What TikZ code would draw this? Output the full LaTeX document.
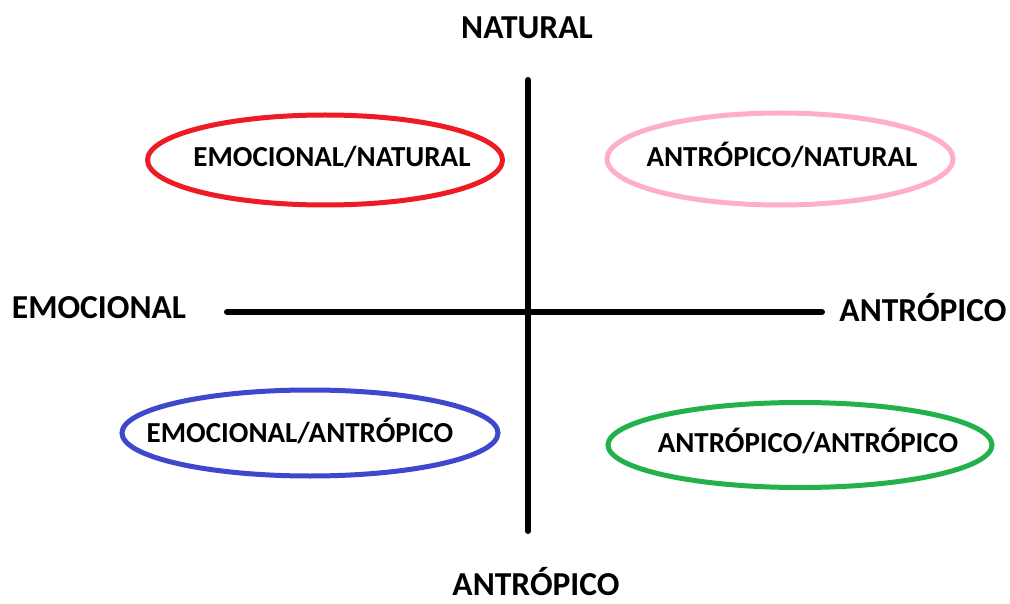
\documentclass[tikz,border=0pt]{standalone}
\usepackage{fontspec}
\setmainfont{Carlito}
\usetikzlibrary{shapes.geometric}
\definecolor{cred}{RGB}{237,28,36}
\definecolor{cpink}{RGB}{255,174,201}
\definecolor{cblue}{RGB}{63,72,204}
\definecolor{cgreen}{RGB}{34,177,76}
\tikzset{
  axis/.style={line width=6pt, line cap=round},
  axlabel/.style={anchor=base, inner sep=0pt, font=\fontsize{33.5}{33.5}\selectfont\bfseries},
  oval/.style={ellipse, draw, line width=5pt, inner sep=0pt},
  ovlabel/.style={anchor=base, inner sep=0pt, font=\fontsize{29}{29}\selectfont\bfseries}
}
\begin{document}
\begin{tikzpicture}[x=1pt,y=-1pt]
\useasboundingbox (0,0) rectangle (1010,604);
\coordinate (vt) at (528,80);
\coordinate (vb) at (528,531);
\coordinate (hl) at (227,312);
\coordinate (hr) at (822,312);
\draw[axis] (vt) -- (vb);
\draw[axis] (hl) -- (hr);
\node[axlabel] (lnat) at (527,39) {NATURAL};
\node[axlabel] (lemo) at (99,319) {EMOCIONAL};
\node[axlabel] (lantr) at (923,322) {ANTRÓPICO};
\node[axlabel] (lantb) at (536,595) {ANTRÓPICO};
\node[oval, cred, minimum width=355pt, minimum height=90pt] (ored) at (325,160) {};
\node[oval, cpink, minimum width=346pt, minimum height=92pt] (opink) at (780,159) {};
\node[oval, cblue, minimum width=376pt, minimum height=86pt] (oblue) at (310,433) {};
\node[oval, cgreen, minimum width=384pt, minimum height=85pt] (ogreen) at (800,445) {};
\node[ovlabel] (tred) at (332,167) {EMOCIONAL/NATURAL};
\node[ovlabel] (tpink) at (782,167) {ANTRÓPICO/NATURAL};
\node[ovlabel] (tblue) at (300,442) {EMOCIONAL/ANTRÓPICO};
\node[ovlabel] (tgreen) at (808,452) {ANTRÓPICO/ANTRÓPICO};
\end{tikzpicture}
\end{document}
